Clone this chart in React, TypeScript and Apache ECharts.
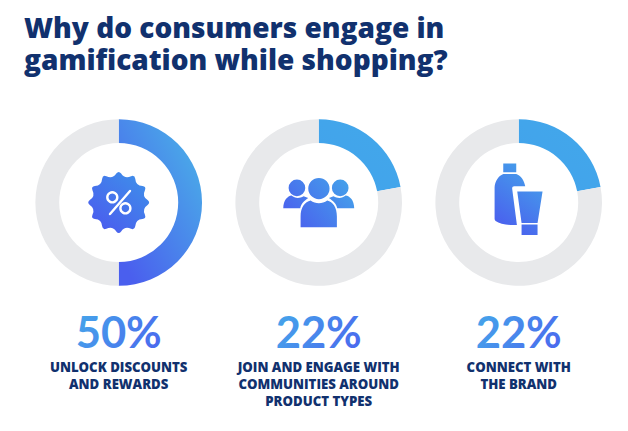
import React, { useEffect, useRef } from "react";
import * as echarts from "echarts";

const titleLines = ["Why do consumers engage in", "gamification while shopping?"];
const percentages = [50, 22, 22];
const labels = [
  ["UNLOCK DISCOUNTS", "AND REWARDS"],
  ["JOIN AND ENGAGE WITH", "COMMUNITIES AROUND", "PRODUCT TYPES"],
  ["CONNECT WITH", "THE BRAND"],
];
const centersX = [118.7, 318.7, 518.7];
const centerY = 202.5;
const NAVY = "#11316e";
const TRACK = "#e8e9eb";

const badgePath = () => {
  const n = 12;
  const p = (a: number, r: number) => `${(Math.cos(a) * r).toFixed(2)} ${(Math.sin(a) * r).toFixed(2)}`;
  const ang = (k: number) => (k / n) * Math.PI * 2 - Math.PI / 2;
  let d = "";
  for (let i = 0; i < n; i++) {
    const w = 0.16;
    if (i === 0) d += `M${p(ang(-w), 29)} `;
    d += `Q${p(ang(i), 32)} ${p(ang(i + w), 29)} `;
    d += `Q${p(ang(i + 0.5), 24)} ${p(ang(i + 1 - w), 29)} `;
  }
  return d + "Z";
};

const circlePath = (x: number, y: number, r: number) =>
  `M${x - r} ${y}A${r} ${r} 0 1 1 ${x + r} ${y}A${r} ${r} 0 1 1 ${x - r} ${y}Z`;

echarts.graphic.registerShape("badgeIcon", echarts.graphic.extendPath(badgePath(), {}));
echarts.graphic.registerShape(
  "sidePeople",
  echarts.graphic.extendPath(
    circlePath(216, 234, 25) + circlePath(346, 234, 25) +
      "M175 295C175 272 188 258 200 257C210 266 224 266 236 259L250 264C238 272 228 282 226 295Z" +
      "M388 295C388 272 375 258 362 257C352 266 338 266 326 259L312 264C324 272 335 282 337 295Z",
    {}
  )
);
echarts.graphic.registerShape(
  "centerPerson",
  echarts.graphic.extendPath(
    circlePath(282, 236, 32) +
      "M227 352L227 320C227 292 240 276 257 272C272 283 292 283 307 272C324 276 336 292 336 320L336 352Z",
    {}
  )
);
echarts.graphic.registerShape(
  "bottle",
  echarts.graphic.extendPath(
    "M235 161L274 161L274 187L235 187Z" +
      "M235 192L274 192C288 196 298 212 301 229L268 229C263 229 261 233 262 238L276 345C250 347 225 342 212 333C209 330 209 328 209 325L209 232C210 214 220 198 235 192Z",
    {}
  )
);
echarts.graphic.registerShape(
  "tube",
  echarts.graphic.extendPath(
    "M277 245L353 245L338 339L290 339Z M290 344L338 344L338 375L290 375Z",
    {}
  )
);

const grad = (x: number, y: number, x2: number, y2: number, a: string, b: string) =>
  new echarts.graphic.LinearGradient(x, y, x2, y2, [
    { offset: 0, color: a },
    { offset: 1, color: b },
  ]);

const globalGrad = (x: number, y: number, x2: number, y2: number, a: string, b: string) =>
  new echarts.graphic.LinearGradient(x, y, x2, y2, [
    { offset: 0, color: a },
    { offset: 1, color: b },
  ], true);

const arcColors = [
  grad(0.9, 0.15, 0.15, 0.95, "#4aabe8", "#4a5fee"),
  grad(1, 0, 0, 1, "#42a8ea", "#42a2ec"),
  grad(1, 0, 0, 1, "#42a8ea", "#42a2ec"),
];

export default function App() {
  const ref = useRef<HTMLDivElement>(null);
  useEffect(() => {
    const chart = echarts.init(ref.current!, null, { renderer: "svg" });
    const pplGrad = () => globalGrad(380, 200, 200, 350, "#44a6ea", "#4a5fee");
    const botGrad = () => globalGrad(350, 170, 220, 350, "#44a6ea", "#4a5fee");
    const iconScale = { scaleX: 1 / 3, scaleY: 1 / 3 };
    chart.setOption({
      animation: false,
      backgroundColor: "#ffffff",
      series: percentages.map((v, i) => ({
        type: "pie",
        center: [centersX[i], centerY],
        radius: [59.5, 83.3],
        startAngle: 90,
        clockwise: true,
        silent: true,
        label: { show: false },
        labelLine: { show: false },
        data: [
          { value: v, itemStyle: { color: arcColors[i] } },
          { value: 100 - v, itemStyle: { color: TRACK } },
        ],
      })),
      graphic: [
        {
          type: "text",
          x: 24,
          y: 11,
          style: {
            text: titleLines.join("\n"),
            fill: NAVY,
            font: `800 28px "Open Sans"`,
            lineHeight: 32,
          },
        },
        ...percentages.map((v, i) => ({
          type: "text",
          x: centersX[i],
          y: 330.5,
          style: {
            text: `${v}%`,
            font: `700 43.5px Lato`,
            textAlign: "center",
            textVerticalAlign: "middle",
            fill: "#4096ec",
          },
        })),
        ...labels.flatMap((ls, i) =>
          ls.map((t, j) => ({
            type: "text",
            x: centersX[i],
            y: [367, 383.5, 401][j],
            style: {
              text: t,
              fill: NAVY,
              font: `800 13.2px "Open Sans"`,
              textAlign: "center",
              textVerticalAlign: "middle",
            },
          }))
        ),
        {
          type: "badgeIcon",
          x: centersX[0],
          y: centerY,
          style: { fill: grad(0.85, 0.1, 0.2, 0.9, "#3f8cea", "#4a5fee") },
        },
        { type: "circle", shape: { cx: 112.3, cy: 197.3, r: 5 }, style: { fill: "none", stroke: "#fff", lineWidth: 2.4 } },
        { type: "circle", shape: { cx: 125.4, cy: 208.3, r: 5 }, style: { fill: "none", stroke: "#fff", lineWidth: 2.4 } },
        { type: "line", shape: { x1: 130, y1: 191, x2: 110, y2: 214 }, style: { stroke: "#fff", lineWidth: 2.4, lineCap: "round" } },
        { type: "sidePeople", x: 225, y: 110, ...iconScale, style: { fill: pplGrad() } },
        { type: "centerPerson", x: 225, y: 110, ...iconScale, style: { fill: pplGrad() } },
        { type: "bottle", x: 425, y: 110, ...iconScale, style: { fill: botGrad() } },
        { type: "tube", x: 425, y: 110, ...iconScale, style: { fill: botGrad() } },
      ],
    });
    // ECharts' SVG renderer leaves gradient text black, so the big figures get their gradient here.
    const svg = ref.current!.querySelector("svg");
    if (svg) {
      const ns = "http://www.w3.org/2000/svg";
      const defs = svg.querySelector("defs") || svg.insertBefore(document.createElementNS(ns, "defs"), svg.firstChild);
      const lg = document.createElementNS(ns, "linearGradient");
      lg.setAttribute("id", "pctGradient");
      lg.setAttribute("x1", "0");
      lg.setAttribute("y1", "0.2");
      lg.setAttribute("x2", "1");
      lg.setAttribute("y2", "0.6");
      [["0", "#45a6ea"], ["1", "#4a6cee"]].forEach(([o, c]) => {
        const s = document.createElementNS(ns, "stop");
        s.setAttribute("offset", o);
        s.setAttribute("stop-color", c);
        lg.appendChild(s);
      });
      defs.appendChild(lg);
      svg.querySelectorAll("text").forEach((t) => {
        if (/^\d+%$/.test(t.textContent || "")) t.setAttribute("fill", "url(#pctGradient)");
      });
    }
    return () => chart.dispose();
  }, []);
  return <div ref={ref} style={{ width: 628, height: 431, position: "absolute", left: 0, top: 0 }} />;
}
